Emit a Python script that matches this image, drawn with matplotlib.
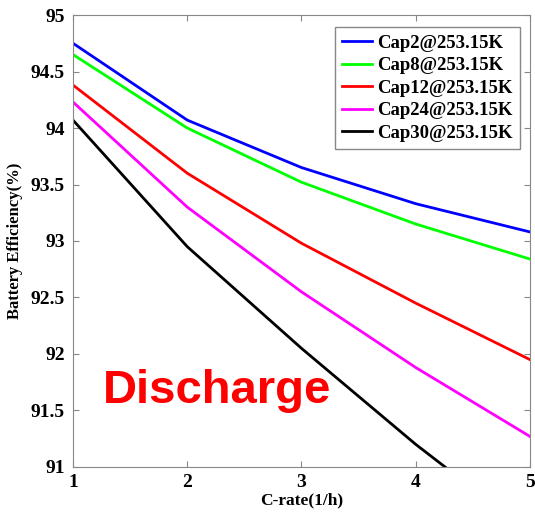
import matplotlib.pyplot as plt

c_rate = [1, 2, 3, 4, 5]
labels = ['Cap2@253.15K', 'Cap8@253.15K', 'Cap12@253.15K',
          'Cap24@253.15K', 'Cap30@253.15K']
colors = ['#0000ff', '#00ff00', '#ff0000', '#ff00ff', '#000000']
eff_cap2 = [94.75, 94.07, 93.65, 93.33, 93.08]
eff_cap8 = [94.65, 94.00, 93.52, 93.15, 92.84]
eff_cap12 = [94.38, 93.60, 92.98, 92.45, 91.95]
eff_cap24 = [94.23, 93.30, 92.55, 91.88, 91.27]
eff_cap30 = [94.07, 92.95, 92.05, 91.20, 90.42]
series = [eff_cap2, eff_cap8, eff_cap12, eff_cap24, eff_cap30]

plt.rcParams['font.family'] = ['Liberation Serif', 'DejaVu Serif']
plt.rcParams['font.weight'] = 'bold'

fig = plt.figure(figsize=(5.35, 5.23), dpi=100)
ax = fig.add_axes([0.1364, 0.1071, 0.8543, 0.8642])

for y, c, lab in zip(series, colors, labels):
    ax.plot(c_rate, y, color=c, linewidth=2, label=lab)

ax.set_xlim(1, 5)
ax.set_ylim(91, 95)
ax.set_xticks([1, 2, 3, 4, 5])
ax.set_yticks([91, 91.5, 92, 92.5, 93, 93.5, 94, 94.5, 95])
ax.set_yticklabels(['91', '91.5', '92', '92.5', '93', '93.5', '94', '94.5', '95'])
ax.tick_params(direction='in', top=True, right=True, labelsize=14,
               color='#888888', length=4, pad=6)
ax.tick_params(axis='x', pad=5)
for lbl in ax.get_xticklabels() + ax.get_yticklabels():
    lbl.set_fontweight('bold')
for sp in ax.spines.values():
    sp.set_color('#888888')

ax.set_xlabel('C-rate(1/h)', fontsize=12.5, fontweight='bold', labelpad=1)
ax.set_ylabel('Battery Efficiency(%)', fontsize=12, fontweight='bold', labelpad=5)

ax.text(1.26, 91.67, 'Discharge', color='#ff0000', fontsize=34,
        fontweight='bold', family='Liberation Sans', va='center', ha='left')

leg = ax.legend(loc='upper right', bbox_to_anchor=(0.99, 0.985),
                fancybox=False, edgecolor='#888888', framealpha=1,
                handlelength=1.6, handletextpad=0.25, borderaxespad=0.3,
                borderpad=0.4, labelspacing=0.28,
                prop={'size': 13.5, 'weight': 'bold'})
leg.get_frame().set_linewidth(1)

fig.savefig('out.png', dpi=100)
